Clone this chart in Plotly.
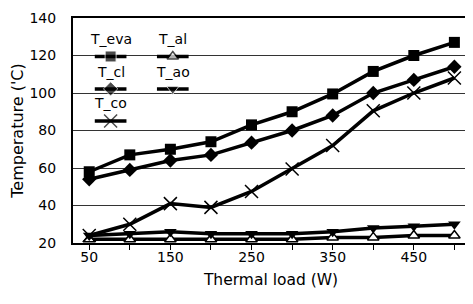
import plotly.graph_objects as go

loads = [50, 100, 150, 200, 250, 300, 350, 400, 450, 500]
T_eva = [58, 67, 70, 74, 83, 90, 99.5, 111.5, 120, 127]
T_cl = [54, 59, 64, 67, 73.5, 80, 88, 100, 107, 114]
T_co = [24, 30, 41, 39, 47.5, 59.5, 72, 90.5, 100, 108]
T_ao = [24, 25, 26, 25, 25, 25, 26, 28, 29, 30]
T_al = [22, 22, 22, 22, 22, 22, 23, 23, 24, 24]

x_tickvals = [50, 150, 250, 350, 450]
y_tickvals = [20, 40, 60, 80, 100, 120, 140]

FONT = "DejaVu Sans"

series = [
    ("T_eva", T_eva, dict(symbol="square", size=11, color="black")),
    ("T_al", T_al, dict(symbol="triangle-up", size=10, color="white", line=dict(color="black", width=1.5))),
    ("T_cl", T_cl, dict(symbol="diamond", size=11, color="black")),
    ("T_ao", T_ao, dict(symbol="triangle-down", size=11, color="black")),
    ("T_co", T_co, dict(symbol="x-thin", size=13, color="black", line=dict(color="black", width=1.5))),
]

fig = go.Figure()
for name, vals, mk in series:
    fig.add_trace(go.Scatter(x=loads, y=vals, mode="lines+markers", name=name,
                             line=dict(color="black", width=3.5), marker=mk,
                             showlegend=False, cliponaxis=False))

# manual legend (text above sample line), drawn in an overlay 0..1 axis
legend_pos = {
    "T_eva": (0.095, 0.829, 0.906),
    "T_al": (0.252, 0.829, 0.906),
    "T_cl": (0.095, 0.685, 0.762),
    "T_ao": (0.252, 0.685, 0.762),
    "T_co": (0.095, 0.542, 0.622),
}
half = 0.04
for name, vals, mk in series:
    cx, ly, ty = legend_pos[name]
    fig.add_trace(go.Scatter(x=[cx - half, cx, cx + half], y=[ly, ly, ly],
                             mode="lines+markers", xaxis="x2", yaxis="y2",
                             line=dict(color="black", width=3.5),
                             marker=dict(mk, size=[0, mk["size"], 0]),
                             showlegend=False, hoverinfo="skip"))
    fig.add_annotation(x=cx, y=ty, xref="x2", yref="y2", text=name, showarrow=False,
                       font=dict(size=14, color="black", family=FONT))

# page body has an 8px default margin, so the figure is sized 8px smaller
fig.update_layout(
    width=465, height=296,
    margin=dict(l=65, r=2, t=6, b=61),
    paper_bgcolor="white", plot_bgcolor="white",
    font=dict(family=FONT, color="black"),
    xaxis=dict(range=[30, 518], tickvals=x_tickvals, ticks="",
               minor=dict(ticks="outside", ticklen=5, tickwidth=1, tickcolor="black",
                          tick0=0, dtick=50, showgrid=False),
               showline=True, linecolor="black", linewidth=2, mirror=True,
               showgrid=False, zeroline=False,
               tickfont=dict(size=14, family=FONT, color="black"),
               title=dict(text="Thermal load (W)", font=dict(size=15.5), standoff=10)),
    yaxis=dict(range=[20, 140], tickvals=y_tickvals, ticks="",
               ticklabelstandoff=12, ticklabeloverflow="allow",
               showline=True, linecolor="black", linewidth=2, mirror=True,
               showgrid=True, gridcolor="#333333", gridwidth=1, zeroline=False,
               tickfont=dict(size=14, family=FONT, color="black"),
               title=dict(text="Temperature ('C)", font=dict(size=16), standoff=4)),
    xaxis2=dict(overlaying="x", range=[0, 1], visible=False, fixedrange=True),
    yaxis2=dict(overlaying="y", range=[0, 1], visible=False, fixedrange=True),
)

fig.write_html("out.html")
